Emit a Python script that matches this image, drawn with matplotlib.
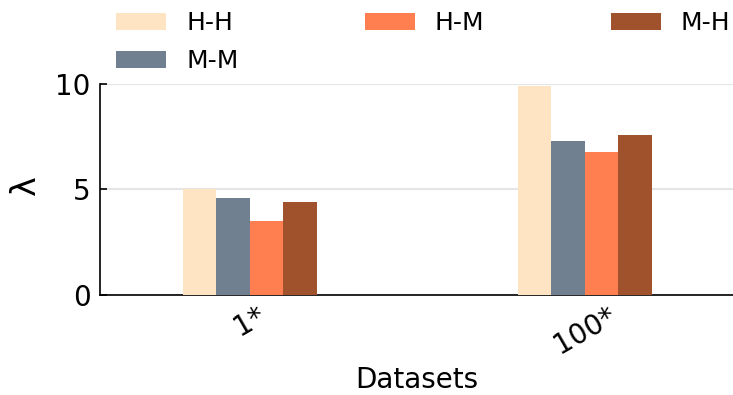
import numpy as np
import matplotlib
matplotlib.use('Agg')
import matplotlib.pyplot as plt

# Data
datasets = ['1*', '100*']
series = ['H-H', 'M-M', 'H-M', 'M-H']
hh = [5.0, 9.9]
mm = [4.6, 7.3]
hm = [3.5, 6.8]
mh = [4.4, 7.6]
colors = ['bisque', 'slategray', 'coral', 'sienna']

fig = plt.figure(figsize=(7.33, 3.95), dpi=100)
ax = fig.add_axes([0.136, 0.254, 0.864, 0.533])  # left, bottom, width, height

x = np.arange(len(datasets))
width = 0.1
for i, (name, vals) in enumerate(zip(series, [hh, mm, hm, mh])):
    ax.bar(x + (i - 1.5) * width, vals, width, color=colors[i], label=name, zorder=3)

ax.set_xlim(-0.448, 1.442)
ax.set_ylim(0, 10)
ax.set_yticks([0, 5, 10])
ax.set_xticks(x)
ax.set_xticklabels(datasets, rotation=30, ha='center')
ax.tick_params(axis='x', length=0, pad=5, labelsize=20)
ax.tick_params(axis='y', direction='in', length=5, width=1.2, pad=6.5, labelsize=20)

ax.spines['top'].set_visible(False)
ax.spines['right'].set_visible(False)
ax.spines['left'].set_linewidth(1.2)
ax.spines['bottom'].set_linewidth(1.2)

ax.yaxis.grid(True, color='#e5e5e5', linewidth=1.5, zorder=0)
ax.set_axisbelow(True)

ax.set_xlabel('Datasets', fontsize=20, labelpad=4.5)
ax.set_ylabel('λ', fontsize=24, va='center')
ax.yaxis.set_label_coords(-0.117, 0.52)

lgd = fig.legend(loc='upper left', bbox_to_anchor=(0.128, 1.028), ncol=3, frameon=False,
                 fontsize=18, handlelength=2.0, handleheight=0.7, handletextpad=0.8,
                 columnspacing=5.05, labelspacing=0.55)

fig.savefig('out.png', dpi=100)
